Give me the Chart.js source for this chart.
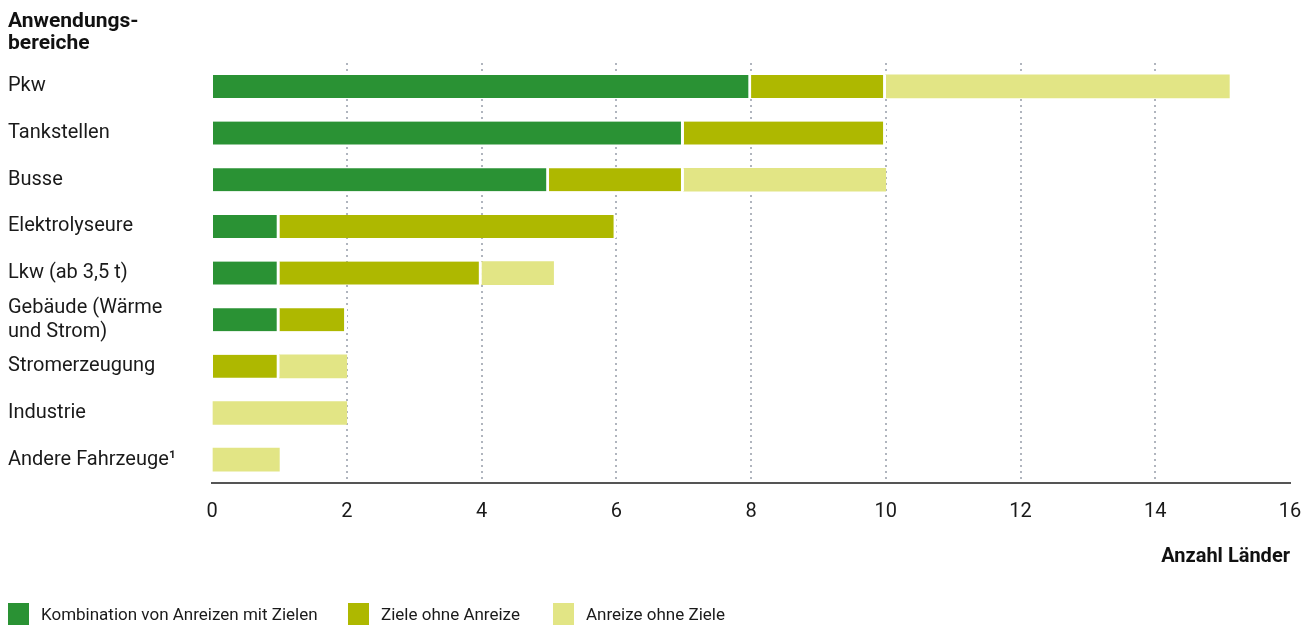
<!DOCTYPE html>
<html lang="de">
<head>
<meta charset="utf-8">
<script src="https://cdn.jsdelivr.net/npm/chart.js@4"></script>
<style>
  html, body { margin: 0; padding: 0; background: #fff; }
  #wrap { position: relative; width: 1314px; height: 626px; }
  #legende { position: absolute; left: 0; top: 603px; font: 17px Roboto, sans-serif; color: #1a1a1a; }
  .item { position: absolute; display: flex; align-items: center; white-space: nowrap; }
  .box { width: 21px; height: 22px; margin-right: 12px; }
</style>
</head>
<body>
<div id="wrap">
  <canvas id="chart" width="1314" height="626"></canvas>
  <div id="legende"></div>
</div>
<script>
// Daten (null = kein Balkenteil)
var bereiche = ['Pkw', 'Tankstellen', 'Busse', 'Elektrolyseure', 'Lkw (ab 3,5 t)',
  ['Gebäude (Wärme', 'und Strom)'], 'Stromerzeugung', 'Industrie', 'Andere Fahrzeuge¹'];
var kombination = [8, 7, 5, 1, 1, 1, null, null, null];
var zieleOhneAnreize = [2, 3, 2, 5, 3, 1, 1, null, null];
var anreizeOhneZiele = [5.1, null, 3, null, 1.07, null, 1, 2, 1];
var serienNamen = ['Kombination von Anreizen mit Zielen', 'Ziele ohne Anreize', 'Anreize ohne Ziele'];
var farben = ['#2a9234', '#aeb800', '#e2e585'];
var xTicks = [0, 2, 4, 6, 8, 10, 12, 14, 16];

var schrift = 'Roboto, "Noto Sans", sans-serif';

function datensatz(i, werte, rand) {
  return {
    label: serienNamen[i],
    data: werte,
    backgroundColor: farben[i],
    borderColor: '#ffffff',
    borderWidth: { left: 0, top: 0, bottom: 0, right: rand },
    borderSkipped: false,
    barThickness: 23,
    xAxisID: 'x'
  };
}

var ctx = document.getElementById('chart').getContext('2d');
var chart = new Chart(ctx, {
  type: 'bar',
  data: {
    labels: bereiche,
    datasets: [
      datensatz(0, kombination, 3),
      datensatz(1, zieleOhneAnreize, 3),
      datensatz(2, anreizeOhneZiele, 0)
    ]
  },
  options: {
    indexAxis: 'y',
    responsive: false,
    animation: false,
    layout: { padding: { left: 8, right: 24, top: 0, bottom: 56 } },
    plugins: {
      legend: { display: false },
      tooltip: { enabled: false },
      title: {
        display: true,
        text: ['Anwendungs-', 'bereiche'],
        align: 'start',
        color: '#111',
        font: { family: schrift, size: 21, weight: 'bold', lineHeight: 1.05 },
        padding: { top: 11, bottom: 8 }
      }
    },
    scales: {
      x: {
        stacked: true,
        min: 0,
        max: 16,
        weight: 1,
        afterBuildTicks: function (scale) {
          scale.ticks = xTicks.map(function (v) { return { value: v }; });
        },
        afterFit: function (scale) {
          scale.height = 87;
          scale.paddingLeft = 0;
          scale.paddingRight = 0;
        },
        // gepunktete Gitterlinien (dash gilt in v4 fuer die Gitterlinien)
        border: { display: false, dash: [2, 4] },
        grid: {
          drawTicks: false,
          lineWidth: 2,
          color: function (c) {
            var v = c.tick ? c.tick.value : 0;
            return (v === 0 || v === 16) ? 'rgba(0,0,0,0)' : '#b0b5be';
          }
        },
        ticks: {
          padding: 17,
          color: '#1a1a1a',
          font: { family: schrift, size: 20 }
        },
        title: {
          display: true,
          text: 'Anzahl Länder',
          align: 'end',
          color: '#111',
          font: { family: schrift, size: 20, weight: 'bold' },
          padding: { top: 0, bottom: 1 }
        }
      },
      // zweite x-Achse nur fuer die durchgezogene Grundlinie
      xLinie: {
        type: 'linear',
        position: 'bottom',
        weight: 0,
        min: 0,
        max: 16,
        afterFit: function (scale) {
          scale.height = 0;
          scale.paddingLeft = 0;
          scale.paddingRight = 0;
        },
        grid: { display: false, drawTicks: false },
        ticks: { display: false },
        border: { display: true, color: '#555555', width: 2 }
      },
      y: {
        stacked: true,
        afterFit: function (scale) { scale.width = 204; },
        border: { display: false },
        grid: { display: false },
        ticks: {
          autoSkip: false,
          crossAlign: 'far',
          color: '#1a1a1a',
          font: { family: schrift, size: 20, lineHeight: 1.2 }
        }
      }
    }
  }
});

// Legende unten als HTML
var legendePos = [8, 348, 553];
var legende = document.getElementById('legende');
serienNamen.forEach(function (name, i) {
  var el = document.createElement('div');
  el.className = 'item';
  el.style.left = legendePos[i] + 'px';
  el.innerHTML = '<span class="box" style="background:' + farben[i] + '"></span><span>' + name + '</span>';
  legende.appendChild(el);
});
</script>
</body>
</html>
